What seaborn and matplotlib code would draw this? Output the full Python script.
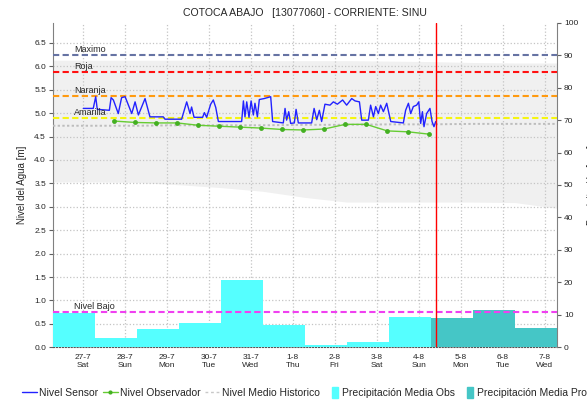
import pandas as pd
import matplotlib
matplotlib.use('Agg')
import matplotlib.pyplot as plt
from matplotlib.patches import Patch, Rectangle
from matplotlib.lines import Line2D
from matplotlib.legend_handler import HandlerPatch
import seaborn as sns

sns.set_style('white')
plt.rcParams['font.family'] = ['Liberation Sans', 'DejaVu Sans']

titulo = 'COTOCA ABAJO   [13077060] - CORRIENTE: SINU'

# nivel sensor: horas desde 27-7 00:00 y nivel [m]
sensor_h = [0.3, 6.0, 7.4, 8.3, 15.2, 16.2, 17.5, 20.3, 22.2, 24.2, 28.0, 29.9, 31.8, 35.6, 38.4,
            46.0, 47.0, 56.5, 59.4, 61.3, 62.2, 63.6, 68.5, 69.5, 70.8, 73.1, 74.6, 76.0, 77.5,
            90.8, 91.8, 92.7, 93.7, 95.0, 96.2, 97.5, 98.4, 99.8, 100.9, 103.6, 107.4, 108.5,
            114.6, 115.6, 116.5, 117.7, 118.8, 120.9, 121.9, 123.2, 130.8, 132.2, 133.7, 135.2,
            136.5, 138.4, 141.3, 143.2, 145.5, 148.5, 150.8, 153.7, 155.6, 158.1, 159.4, 163.2,
            164.5, 166.1, 167.4, 168.9, 170.2, 171.8, 173.7, 176.0, 183.2, 184.5, 186.1, 187.4,
            188.9, 190.8, 192.0, 193.1, 194.1, 195.0, 196.5, 198.4, 199.6, 200.7, 201.7]
sensor_m = [5.10, 5.10, 5.35, 5.08, 5.06, 5.33, 5.28, 4.99, 5.33, 5.35, 4.99, 5.24, 4.96, 5.31, 4.92,
            4.92, 4.87, 4.87, 5.24, 4.99, 5.13, 4.91, 4.91, 5.01, 4.91, 5.19, 5.28, 5.12, 4.82,
            4.82, 5.26, 4.92, 5.24, 4.91, 5.26, 4.96, 5.21, 4.92, 5.29, 5.31, 5.35, 4.82,
            4.79, 5.10, 4.85, 5.03, 4.78, 4.79, 5.08, 4.79, 4.79, 5.10, 4.86, 5.06,
            4.82, 5.19, 5.17, 5.24, 5.19, 5.28, 5.17, 5.31, 5.26, 5.24, 4.85, 4.85,
            5.17, 4.92, 5.14, 4.99, 5.17, 5.03, 5.21, 4.82, 4.79, 5.06, 5.21, 4.99,
            5.14, 5.17, 5.24, 4.78, 5.03, 4.71, 4.99, 5.10, 4.82, 4.71, 4.82]

# nivel observador (lecturas 06:00 y 18:00 desde 27-7 18:00)
obs_m = [4.83, 4.80, 4.79, 4.79, 4.74, 4.72, 4.70, 4.68, 4.65, 4.64, 4.66, 4.76, 4.76, 4.62, 4.60, 4.55]

# historico diario a las 07:00, del 26-7 al 7-8
hist_medio = [4.73, 4.73, 4.73, 4.74, 4.74, 4.74, 4.75, 4.75, 4.76, 4.76, 4.77, 4.77, 4.77]
hist_max = [6.13, 6.13, 6.13, 6.13, 6.13, 6.12, 6.12, 6.12, 6.11, 6.10, 6.08, 6.07, 6.07]
hist_min = [3.53, 3.53, 3.52, 3.47, 3.41, 3.33, 3.20, 3.10, 3.10, 3.10, 3.10, 3.09, 2.97]

# precipitacion media diaria [mm], dias hidrologicos 07:00-07:00
precip_obs = [10.5, 3.0, 5.6, 7.5, 20.7, 6.9, 0.6, 1.7, 9.4]
precip_pro = [9.1, 11.5, 6.0]

umbral_nombres = ['Maximo', 'Roja', 'Naranja', 'Amarilla', 'Nivel Bajo']
umbral_m = [6.24, 5.88, 5.36, 4.89, 0.76]
umbral_colores = ['#6673A3', '#FF1010', '#FF9A10', '#F5F510', '#F040F0']

inicio = pd.Timestamp('2024-07-26 07:00')
fin = pd.Timestamp('2024-08-07 07:00')
ahora = pd.Timestamp('2024-08-04 10:00')

t_sensor = pd.Timestamp('2024-07-27') + pd.to_timedelta(sensor_h, unit='h')
t_obs = pd.date_range('2024-07-27 18:00', periods=len(obs_m), freq='12h')
t_hist = pd.date_range(inicio, periods=len(hist_medio), freq='D')
dias_obs = pd.date_range(inicio, periods=len(precip_obs), freq='D')
dias_pro = pd.date_range(dias_obs[-1] + pd.Timedelta(days=1), periods=len(precip_pro), freq='D')

fig = plt.figure(figsize=(5.87, 4.01), dpi=100)
ax = fig.add_axes([53 / 587, 1 - 347.3 / 401, 504 / 587, 324.6 / 401])

# banda historica y rejilla
ax.fill_between(t_hist, hist_min, hist_max, color='#F0F0F0', lw=0, zorder=1)
ax.set_axisbelow(False)
ax.grid(True, ls=':', color='#C4C4C4', lw=0.9)
ax.set_xlim(inicio, fin)
ax.set_ylim(0, 6.93)
ax.set_yticks([i * 0.5 for i in range(14)])
ax.set_yticklabels([f'{i * 0.5:.1f}' for i in range(14)], fontsize=6)
ticks = pd.date_range('2024-07-27', '2024-08-07', freq='D')
ax.set_xticks(ticks)
ax.set_xticklabels([f'{d.day}-{d.month}\n{d.strftime("%a")}' for d in ticks], fontsize=6,
                   linespacing=1.25)
ax.tick_params(axis='both', length=3, width=0.8, color='#606060', pad=2)
ax.set_ylabel('Nivel del Agua [m]', fontsize=7, labelpad=5)
ax.set_title(titulo, fontsize=7.6, pad=5)
for s in ['top', 'right']:
    ax.spines[s].set_visible(False)
ax.spines['left'].set_color('#808080')
ax.spines['bottom'].set_color('#555555')
ax.spines['bottom'].set_linestyle(':')

# precipitacion en eje derecho
ax2 = ax.twinx()
ax2.bar(dias_obs, precip_obs, width=1, align='edge', color='#55FFFF', lw=0)
ax2.bar(dias_pro, precip_pro, width=1, align='edge', color='#45C6C6', lw=0)
ax2.set_ylim(0, 100)
ax2.set_yticks(range(0, 101, 10))
ax2.tick_params(axis='y', labelsize=6, length=3, width=0.8, color='#606060', pad=2)
ax2.set_ylabel('Precipitación [mm]', fontsize=7, labelpad=6)
for s in ['top', 'left', 'bottom']:
    ax2.spines[s].set_visible(False)
ax2.spines['right'].set_color('#808080')

# capa superior con niveles
ax3 = fig.add_axes(ax.get_position(), sharex=ax, sharey=ax)
ax3.axis('off')
ax3.patch.set_visible(False)
for nombre, val, c in zip(umbral_nombres, umbral_m, umbral_colores):
    ax3.axhline(val, color=c, lw=1.5, ls=(0, (3, 1.6)))
    ax3.text(inicio + pd.Timedelta(hours=12), val + 0.02, nombre, fontsize=6.5, va='bottom')

sns.lineplot(x=t_hist, y=hist_medio, ax=ax3, color='#BDBDBD', lw=1.4, ls=(0, (1.2, 1.2)))
sns.lineplot(x=t_obs, y=obs_m, ax=ax3, color='#66CC33', lw=1, marker='o', markersize=3.5,
             markeredgewidth=0, markerfacecolor='#44B022')
sns.lineplot(x=t_sensor, y=sensor_m, ax=ax3, color='#2222FF', lw=1)
ax3.axvline(ahora, color='#FF0000', lw=1)
ax3.set_xlim(inicio, fin)
ax3.set_ylim(0, 6.93)


def parche(legend, orig_handle, xdescent, ydescent, width, height, fontsize):
    return Rectangle((width * 0.45 - xdescent, -ydescent - height * 0.3), width * 0.42, height * 1.6)


handles = [Line2D([], [], color='#2222FF', lw=1),
           Line2D([], [], color='#66CC33', lw=1, marker='o', markersize=3,
                  markeredgewidth=0, markerfacecolor='#44B022'),
           Line2D([], [], color='#C8C8C8', lw=1, ls=(0, (2, 2))),
           Patch(color='#55FFFF'), Patch(color='#45C6C6')]
labels = ['Nivel Sensor', 'Nivel Observador', 'Nivel Medio Historico',
          'Precipitación Media Obs', 'Precipitación Media Pronosticada']
fig.legend(handles, labels, loc='center left', bbox_to_anchor=(0.037, 0.02), ncol=5,
           frameon=False, fontsize=7.5, handlelength=1.45, handletextpad=0.2,
           columnspacing=0.45, borderpad=0, borderaxespad=0,
           handler_map={Patch: HandlerPatch(patch_func=parche)})

fig.savefig('out.png', dpi=100)
